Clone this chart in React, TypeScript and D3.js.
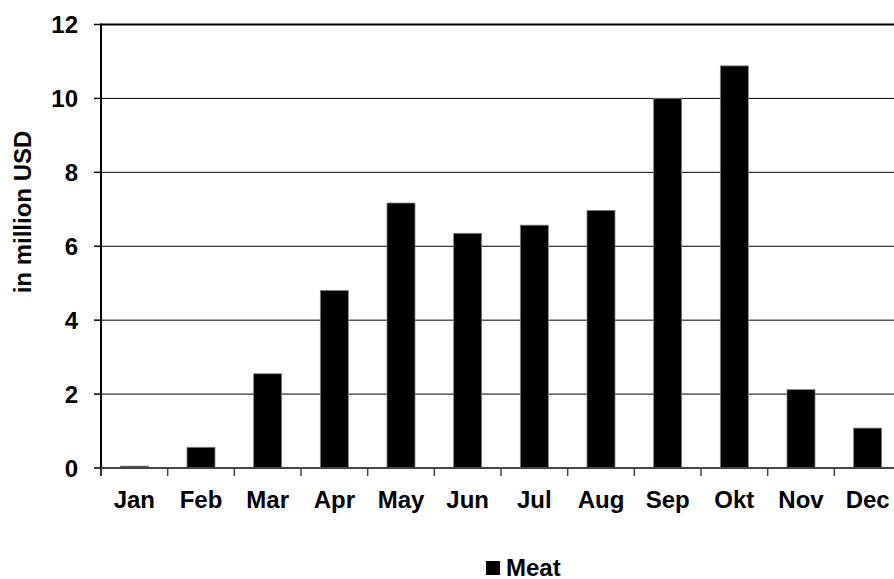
import React from "react";
import * as d3 from "d3";

const months = ["Jan", "Feb", "Mar", "Apr", "May", "Jun", "Jul", "Aug", "Sep", "Okt", "Nov", "Dec"];
const meat = [0.05, 0.56, 2.55, 4.8, 7.17, 6.35, 6.57, 6.97, 10.0, 10.88, 2.12, 1.08];
const yTicks = [0, 2, 4, 6, 8, 10, 12];
const seriesName = "Meat";
const yTitle = "in million USD";

const W = 894;
const H = 579;
const left = 101;
const right = 901;
const top = 24.5;
const bottom = 468;
const font = "'Liberation Sans', Arial, sans-serif";
const fs = 24;

export default function App() {
  const x = d3.scaleBand<string>().domain(months).range([left, right]).padding(0);
  const y = d3.scaleLinear().domain([0, 12]).range([bottom, top]);
  const barW = x.bandwidth() * 0.42;
  const boundaries = d3.range(months.length + 1).map((i) => left + i * x.step());

  return (
    <svg
      width={W}
      height={H}
      style={{ position: "absolute", left: 0, top: 0, background: "#fff" }}
      fontFamily={font}
      fontWeight="bold"
    >
      <rect x={0} y={0} width={W} height={H} fill="#fff" />
      {yTicks.map((t) => (
        <line
          key={"g" + t}
          x1={left}
          x2={right}
          y1={y(t)}
          y2={y(t)}
          stroke="#000"
          strokeWidth={t === 12 ? 2 : 1}
        />
      ))}
      {meat.map((v, i) => (
        <rect
          key={"b" + i}
          x={(x(months[i]) as number) + (x.bandwidth() - barW) / 2}
          y={y(v)}
          width={barW}
          height={y(0) - y(v)}
          fill="#000"
          stroke="#808080"
          strokeWidth={0.8}
        />
      ))}
      <line x1={left} x2={left} y1={top - 1} y2={bottom + 8} stroke="#000" strokeWidth={2} />
      {yTicks.map((t) => (
        <g key={"yt" + t}>
          <line x1={left - 7} x2={left} y1={y(t)} y2={y(t)} stroke="#000" strokeWidth={1.5} />
          <text x={78} y={y(t) + 8.5} textAnchor="end" fontSize={fs} fill="#000">
            {t}
          </text>
        </g>
      ))}
      <line x1={left} x2={right} y1={bottom} y2={bottom} stroke="#444" strokeWidth={2} />
      {boundaries.map((b, i) => (
        <line key={"xt" + i} x1={b} x2={b} y1={bottom} y2={bottom + 8} stroke="#444" strokeWidth={1.5} />
      ))}
      {months.map((m) => (
        <text
          key={"xl" + m}
          x={(x(m) as number) + x.bandwidth() / 2}
          y={508}
          textAnchor="middle"
          fontSize={fs}
          fill="#000"
        >
          {m}
        </text>
      ))}
      <text
        transform={`translate(31, 212) rotate(-90)`}
        textAnchor="middle"
        fontSize={fs}
        fill="#000"
      >
        {yTitle}
      </text>
      <rect x={486} y={561} width={14} height={14} fill="#000" />
      <text x={506} y={576} fontSize={fs} fill="#000">
        {seriesName}
      </text>
    </svg>
  );
}
